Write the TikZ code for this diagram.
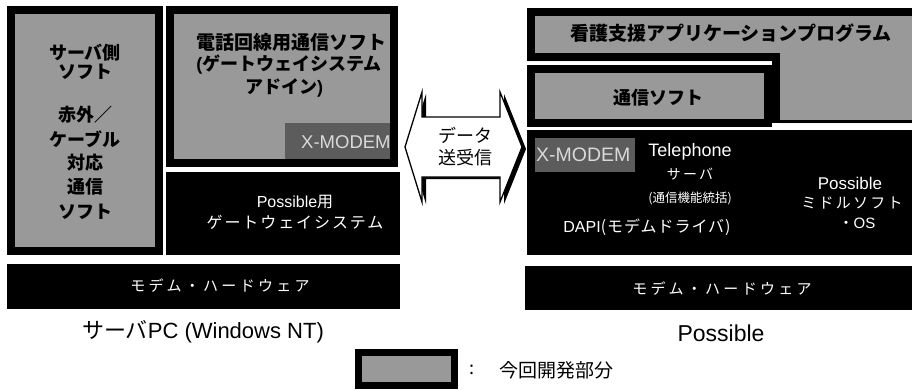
\documentclass[tikz,border=0pt]{standalone}
\usepackage{fontspec}
\setmainfont{Noto Sans CJK JP}
\newfontfamily\lat{Liberation Sans}
\definecolor{devgray}{gray}{0.6}
\definecolor{xmgray}{gray}{0.36}
\begin{document}
\begin{tikzpicture}[x=1pt,y=-1pt,
  hatch/.style={fill=devgray},
  frame/.style={draw=black,line width=8pt},
  blk/.style={fill=black},
  btxt/.style={font=\bfseries\fontsize{18}{22}\selectfont,text=black,align=center,inner sep=0},
  wtxt/.style={font=\fontsize{16}{22}\selectfont\addfontfeature{LetterSpace=12},text=white,align=center,inner sep=0},
  xmtxt/.style={font=\lat\fontsize{18.5}{20}\selectfont,text=black!15,inner sep=0,anchor=west},
  lbl/.style={font=\fontsize{22}{26}\selectfont,text=black,inner sep=0},
]
\useasboundingbox (0,0) rectangle (912,389);

% ---------- left: server side software ----------
\path[hatch] (7,6) rectangle (163,255);
\draw[frame] (11,10) rectangle (159,251);
\node[btxt] (s1) at (85,53) {サーバ側};
\node[btxt] (s2) at (85,72) {ソフト};
\node[btxt] (s3) at (85,115) {赤外／};
\node[btxt] (s4) at (85,139) {ケーブル};
\node[btxt] (s5) at (85,163) {対応};
\node[btxt] (s6) at (85,187) {通信};
\node[btxt] (s7) at (85,212) {ソフト};

% ---------- middle: phone line software ----------
\path[hatch] (166,6) rectangle (398,167);
\path[fill=xmgray] (285,123) rectangle (398,163);
\node[xmtxt] (xm1) at (301,142) {X-MODEM};
\draw[frame] (170,10) rectangle (394,163);
\node[btxt,font=\bfseries\fontsize{19}{22}\selectfont] (p1) at (291,42) {電話回線用通信ソフト};
\node[btxt] (p2) at (289,65) {{\lat (}ゲートウェイシステム};
\node[btxt] (p3) at (284,88) {アドイン{\lat )}};

\path[blk] (166,172) rectangle (400,255);
\node[wtxt] (g1) at (295,202) {{\lat Possible}用};
\node[wtxt] (g2) at (295,222) {ゲートウェイシステム};

% ---------- arrow ----------
\path[fill=black] (409,147) -- (426,94) -- (426,119) -- (504,119) -- (504,94) -- (526,149) -- (504,204) -- (504,179) -- (426,179) -- (426,204) -- cycle;
\draw[fill=white,line width=1.3pt] (405,147) -- (422,92) -- (422,117) -- (500,117) -- (500,92) -- (522,147) -- (500,202) -- (500,177) -- (422,177) -- (422,202) -- cycle;
\node[font=\fontsize{18}{22}\selectfont,inner sep=0] (d1) at (465,135) {データ};
\node[font=\fontsize{18}{22}\selectfont,inner sep=0] (d2) at (465,158) {送受信};

% ---------- right: Possible ----------
\path[hatch] (527,8) -- (912,8) -- (912,123) -- (780,123) -- (780,61) -- (527,61) -- cycle;
\draw[line width=8pt] (912,12) -- (531,12) -- (531,57) -- (776,57) -- (776,123);
\draw[line width=3pt] (776,121.5) -- (912,121.5);
\node[btxt,font=\bfseries\fontsize{19}{22}\selectfont] (app) at (731,33) {看護支援アプリケーションプログラム};

\path[hatch] (527,65) rectangle (772,127);
\draw[frame] (531,69) rectangle (768,123);
\node[btxt] (comm) at (658,98) {通信ソフト};

\path[blk] (527,130) rectangle (912,255);
\path[fill=xmgray] (535,138) rectangle (635,172);
\node[xmtxt,font=\lat\fontsize{19.5}{22}\selectfont] (xm2) at (536,155) {X-MODEM};
\node[wtxt,font=\lat\fontsize{18}{22}\selectfont] (tel) at (690,152) {Telephone};
\node[wtxt,font=\fontsize{14}{18}\selectfont\addfontfeature{LetterSpace=15}] (tsv) at (690,174) {サーバ};
\node[wtxt,font=\fontsize{12.5}{16}\selectfont] (tfn) at (690,198) {(通信機能統括)};
\node[wtxt,font=\fontsize{16}{20}\selectfont\addfontfeature{LetterSpace=6}] (dapi) at (647,227) {{\lat DAPI}(モデムドライバ)};
\node[wtxt,font=\lat\fontsize{17}{20}\selectfont] (pos) at (850,183) {Possible};
\node[wtxt,font=\fontsize{15}{20}\selectfont\addfontfeature{LetterSpace=15}] (mid) at (852,203) {ミドルソフト};
\node[wtxt,font=\fontsize{15}{20}\selectfont\addfontfeature{LetterSpace=15}] (os) at (857,223) {・{\lat OS}};

% ---------- modem hardware ----------
\path[blk] (7,264) rectangle (400,309);
\node[wtxt,font=\fontsize{15}{20}\selectfont\addfontfeature{LetterSpace=22}] (m1) at (220,286) {モデム・ハードウェア};
\path[blk] (525,266) rectangle (912,310);
\node[wtxt,font=\fontsize{15}{20}\selectfont\addfontfeature{LetterSpace=22}] (m2) at (722,289) {モデム・ハードウェア};

% ---------- labels ----------
\node[lbl] (lpc) at (203,332) {サーバ{\lat PC (Windows NT)}};
\node[lbl,font=\lat\fontsize{23}{26}\selectfont] (lpos) at (721,333) {Possible};

% ---------- legend ----------
\path[hatch] (355,349) rectangle (458,389);
\draw[line width=7pt] (358.5,352.5) rectangle (454.5,385.5);
\node[inner sep=0,font=\fontsize{18}{22}\selectfont] (colon) at (472,370) {:};
\node[inner sep=0,anchor=west,font=\fontsize{19}{22}\selectfont] (leg) at (499,370) {今回開発部分};
\end{tikzpicture}
\end{document}
